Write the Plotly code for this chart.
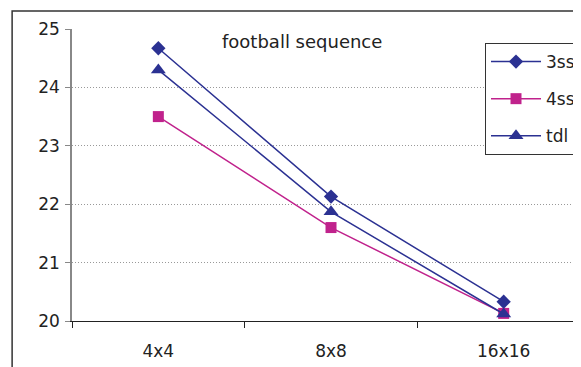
import plotly.graph_objects as go

categories = ["4x4", "8x8", "16x16"]
s3ss = [24.67, 22.13, 20.33]
s4ss = [23.50, 21.60, 20.13]
tdl = [24.30, 21.87, 20.12]
series_names = ["3ss", "4ss", "tdl"]
y_ticks = [20, 21, 22, 23, 24, 25]
title_text = "football sequence"

NAVY = "#2B3192"
MAG = "#C0228C"

fig = go.Figure()
fig.add_trace(go.Scatter(x=categories, y=s3ss, name=series_names[0], mode="lines+markers",
                         legendgroup="a",
                         line=dict(color=NAVY, width=1.5),
                         marker=dict(symbol="diamond", size=11, color=NAVY)))
fig.add_trace(go.Scatter(x=categories, y=s4ss, name=series_names[1], mode="lines+markers",
                         legendgroup="b",
                         line=dict(color=MAG, width=1.5),
                         marker=dict(symbol="square", size=11, color=MAG)))
fig.add_trace(go.Scatter(x=categories, y=tdl, name=series_names[2], mode="lines+markers",
                         legendgroup="c",
                         line=dict(color=NAVY, width=1.5),
                         marker=dict(symbol="triangle-up", size=13, color=NAVY)))

font_family = "DejaVu Sans, Arial, sans-serif"

# page body has an 8px margin, so the figure is drawn 8px right/down
W, H = 573, 359
L, T = 64, 21
PW = 509
PH = 292
B = H - T - PH

fig.update_layout(
    width=W, height=H,
    margin=dict(l=L, r=0, t=T, b=B),
    paper_bgcolor="white", plot_bgcolor="white",
    font=dict(family=font_family, color="#222222", size=17),
    showlegend=True,
    legend=dict(x=0.813, y=0.952, xanchor="left", yanchor="top",
                bgcolor="white", bordercolor="#333333", borderwidth=1,
                font=dict(size=17, family=font_family), itemwidth=50,
                tracegroupgap=12),
    xaxis=dict(type="category", categoryorder="array", categoryarray=categories,
               range=[-0.5, 2.442], tickson="boundaries", ticks="outside", ticklen=6,
               tickcolor="#222222", showline=True, linecolor="#222222", linewidth=1.2,
               showgrid=False, zeroline=False, tickfont=dict(size=17),
               ticklabelstandoff=14),
    yaxis=dict(range=[20, 25], tickvals=y_ticks, ticks="outside", ticklen=5,
               tickcolor="#888888", showline=True, linecolor="#888888", linewidth=1.5,
               showgrid=True, gridcolor="#999999", griddash="1px,2px", gridwidth=1,
               zeroline=False, tickfont=dict(size=17), ticklabelstandoff=2),
    annotations=[dict(text=title_text, x=(220 - 72) / PW, y=1.0, xref="paper", yref="paper",
                      xanchor="left", yanchor="top", showarrow=False,
                      font=dict(size=18, family=font_family, color="#222222"))],
    shapes=[dict(type="rect", xref="paper", yref="paper",
                 x0=(12 - 72) / PW, x1=1.05, y0=-0.3, y1=1 + (29 - 11) / PH,
                 line=dict(color="#333333", width=1.5), layer="below")],
)

fig.write_html("out.html")
